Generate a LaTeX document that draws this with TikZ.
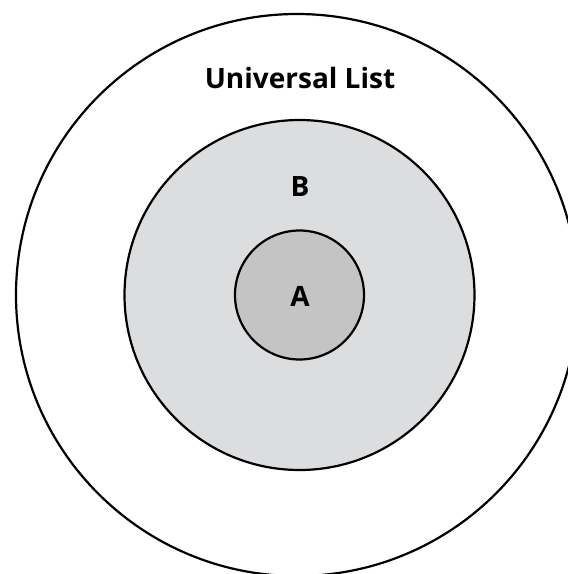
\documentclass[tikz,border=0pt]{standalone}
\usepackage{fontspec}
\setmainfont{Open Sans}
\usetikzlibrary{positioning}
\definecolor{setB}{HTML}{DCDDDF}
\definecolor{setA}{HTML}{C4C4C4}
\tikzset{
  setline/.style={draw=black, line width=2.2pt},
  setlabel/.style={font=\bfseries\fontsize{28}{34}\selectfont, anchor=base, inner sep=0pt}
}

\begin{document}
\begin{tikzpicture}[x=1pt, y=-1pt]
  \useasboundingbox (0,0) rectangle (568,574);
  \clip (0,0) rectangle (568,574);
  % universe, B and A
  \coordinate (U) at (297,295);
  \coordinate (C) at (299.5,295);
  \draw[setline, fill=white] (U) circle[radius=281];
  \draw[setline, fill=setB] (C) circle[radius=175];
  \draw[setline, fill=setA] (C) circle[radius=64.5];
  \node[setlabel] (univ) at (300,88) {Universal List};
  \node[setlabel] (labB) at (300,196) {B};
  \node[setlabel] (labA) at (300,306) {A};
\end{tikzpicture}
\end{document}
